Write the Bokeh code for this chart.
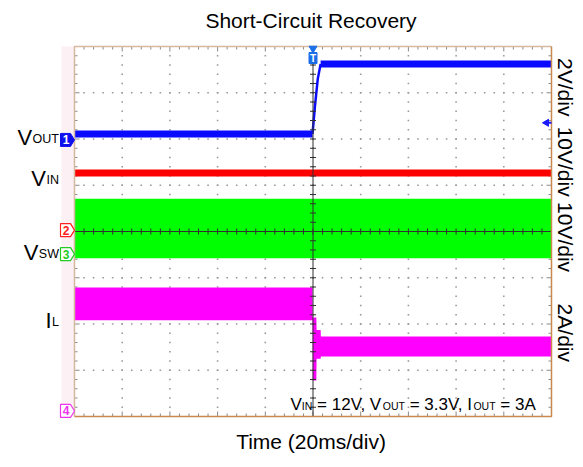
import numpy as np
from bokeh.plotting import figure
from bokeh.models import Range1d
from bokeh.core.properties import value
from bokeh.embed import file_html
from bokeh.resources import INLINE

# ---------------- data (oscilloscope divisions: x 0..10, y -4..4) ----------------
# VOUT, 2V/div
vout_t = [0.0, 4.99, 5.04, 5.10, 5.16, 10.0]
vout_v = [2.11, 2.11, 2.70, 3.30, 3.62, 3.62]
# VIN, 10V/div
vin_t = [0.0, 10.0]
vin_v = [1.265, 1.265]
# VSW, 10V/div (switching envelope)
vsw_t = [0.0, 10.0]
vsw_hi = [0.71, 0.71]
vsw_lo = [-0.58, -0.58]
# IL, 2A/div (ripple envelope)
il_t = [0.0, 4.99, 4.995, 5.07, 5.075, 5.16, 5.165, 10.0]
il_hi = [-1.21, -1.21, -1.86, -1.86, -2.13, -2.13, -2.27, -2.27]
il_lo = [-1.92, -1.92, -3.22, -3.22, -2.75, -2.75, -2.70, -2.70]
# channel ground markers
ch_names = ["1", "2", "3", "4"]
ch_level = [1.98, 0.03, -0.49, -3.88]
trig_time = 5.0
trig_level = 2.35
# scale labels
scale_labels = ["2V/div", "10V/div", "10V/div", "2A/div"]
scale_pos = [3.12, 1.51, -0.12, -2.19]
title = "Short-Circuit Recovery"
xlabel = "Time (20ms/div)"

# ---------------- layout ----------------
W, H = 583, 463
PX, PY = 47.7, 46.25          # pixels per division
L, R, T, B = 74, 32, 46, 47   # margins around the graticule (px)
FONT = value("Liberation Sans")

def dx(px):
    return px / PX

def dy(px):
    return px / PY

p = figure(width=W, height=H, output_backend="svg", toolbar_location=None,
           x_range=Range1d(-L / PX, 10 + R / PX), y_range=Range1d(-4 - B / PY, 4 + T / PY),
           min_border=0, x_axis_type=None, y_axis_type=None)
p.outline_line_color = None
p.background_fill_color = "white"
p.border_fill_color = "white"

# pink channel strip at the left
p.quad(left=-dx(13), right=0, bottom=-4, top=4, fill_color="#fcf0f5", line_color=None)

# graticule dots
gx, gy = [], []
for i in range(1, 10):
    for k in range(1, 40):
        gx.append(float(i)); gy.append(-4 + 0.2 * k)
for j in range(-3, 4):
    for k in range(1, 50):
        gx.append(0.2 * k); gy.append(float(j))
p.scatter(gx, gy, marker="square", size=1.6, fill_color="#9a9a9a", line_color=None)

# border ticks
x0s, y0s, x1s, y1s = [], [], [], []
for k in range(1, 50):
    x = 0.2 * k
    ln = 5 if k % 5 == 0 else 3
    x0s += [x, x]; x1s += [x, x]
    y0s += [4, -4]; y1s += [4 - dy(ln), -4 + dy(ln)]
for k in range(1, 40):
    y = -4 + 0.2 * k
    ln = 5 if k % 5 == 0 else 3
    y0s += [y, y]; y1s += [y, y]
    x0s += [0, 10]; x1s += [dx(ln), 10 - dx(ln)]
p.segment(x0s, y0s, x1s, y1s, line_color="#8a8a8a", line_width=1)

# ---------------- traces ----------------
p.varea(x=vsw_t, y1=vsw_lo, y2=vsw_hi, fill_color="#00ff00")
p.line(vin_t, vin_v, line_color="#ff0000", line_width=7)
p.varea(x=il_t, y1=il_lo, y2=il_hi, fill_color="#ff00ff")
p.line(vout_t[:2], vout_v[:2], line_color="#0a0aff", line_width=7)
p.line(vout_t[1:5], vout_v[1:5], line_color="#0a0aff", line_width=2.5)
p.line(vout_t[4:], vout_v[4:], line_color="#0a0aff", line_width=7)

# center axes with ticks
p.line([5, 5], [-4, 4], line_color="#303030", line_width=1)
p.line([0, 10], [0, 0], line_color="#303030", line_width=1)
cx0, cy0, cx1, cy1 = [], [], [], []
for k in range(1, 40):
    y = -4 + 0.2 * k
    cx0.append(5 - dx(3)); cx1.append(5 + dx(3)); cy0.append(y); cy1.append(y)
for k in range(1, 50):
    x = 0.2 * k
    cx0.append(x); cx1.append(x); cy0.append(-dy(3)); cy1.append(dy(3))
p.segment(cx0, cy0, cx1, cy1, line_color="#303030", line_width=1)

# graticule border
p.line([0, 0, 10], [-4, 4, 4], line_color="#d6b89e", line_width=1.5)
p.line([0, 10, 10], [-4, -4, 4], line_color="#c8884e", line_width=1.5)

# ---------------- channel markers ----------------
ch_colors = ["#1010ee", "#ff2020", "#22cc22", "#ee33ee"]
xs, ys = [], []
for lv in ch_level:
    xs.append([-dx(14), -dx(4), 0, -dx(4), -dx(14)])
    ys.append([lv + dy(6.5), lv + dy(6.5), lv, lv - dy(6.5), lv - dy(6.5)])
p.patches(xs[:1], ys[:1], fill_color=ch_colors[0], line_color=ch_colors[0])
p.patches(xs[1:], ys[1:], fill_color="white", line_color=ch_colors[1:], line_width=1.2)
p.text([-dx(8.5)] * 4, ch_level, text=ch_names, text_color=["white"] + ch_colors[1:],
       text_font=FONT, text_font_size="12px", text_font_style="bold",
       text_align="center", text_baseline="middle")

# trigger position marker
p.line([trig_time, trig_time], [4, 4 - dy(12)], line_color="#1a6ee8", line_width=1)
p.scatter([trig_time], [4 - dy(2)], marker="inverted_triangle", size=8,
          fill_color="#1a6ee8", line_color="#1a6ee8")
p.rect([trig_time], [4 - dy(11.5)], width=8, height=11, width_units="screen",
       height_units="screen", fill_color="#1a6ee8", line_color="#1a6ee8")
p.text([trig_time], [4 - dy(11.5)], text=["T"], text_color="white", text_font=FONT,
       text_font_size="10px", text_font_style="bold", text_align="center", text_baseline="middle")
# trigger level marker
p.line([10 - dx(6), 10], [trig_level, trig_level], line_color="#1a1aff", line_width=2)
p.scatter([10 - dx(5)], [trig_level], marker="triangle", angle=np.pi / 2, size=7,
          fill_color="#1a1aff", line_color="#1a1aff")

# ---------------- texts ----------------
p.text([5 - dx(2)], [4 + dy(26)], text=[title], text_font=FONT, text_font_size="21px",
       text_align="center", text_baseline="middle", text_color="black")
p.text([5 - dx(2)], [-4 - dy(25)], text=[xlabel], text_font=FONT, text_font_size="21px",
       text_align="center", text_baseline="middle", text_color="black")
p.text([10 + dx(14)] * 4, scale_pos, text=scale_labels, angle=-np.pi / 2, text_font=FONT,
       text_font_size="21px", text_align="center", text_baseline="middle", text_color="black")

AW = {' ': 278, '=': 584, ',': 278, '.': 278, '0': 556, '1': 556, '2': 556, '3': 556,
      'A': 667, 'V': 667, 'I': 278, 'N': 722, 'O': 778, 'U': 722, 'T': 611, 'S': 667,
      'W': 944, 'L': 556}

def tw(s, fs):
    return sum(AW[c] for c in s) / 1000.0 * fs

# left channel labels: (main, subscript, baseline in px from graticule top)
left_labels = [("V", "OUT", 91.0), ("V", "IN", 132.0), ("V", "SW", 206.0), ("I", "L", 274.0)]
for main, sub, base in left_labels:
    yb = 4 - dy(base)
    sub_start = -dx(74 - 58.5) - dx(tw(sub, 12.5))
    p.text([sub_start], [yb - dy(1.5)], text=[sub], text_font=FONT, text_font_size="12.5px",
           text_align="left", text_baseline="alphabetic", text_color="black")
    p.text([sub_start - dx(0.5)], [yb], text=[main], text_font=FONT, text_font_size="22px",
           text_align="right", text_baseline="alphabetic", text_color="black")

# condition annotation
pieces = [("V", False), ("IN", True), (" = 12V, V", False), ("OUT", True),
          (" = 3.3V, I", False), ("OUT", True), (" = 3A", False)]
FM, FS = 17.0, 10.5
xc = dx(290 - 74)
yb = -4 + dy(12.5)
for txt, is_sub in pieces:
    fs = FS if is_sub else FM
    lead = len(txt) - len(txt.lstrip(' '))
    shown = txt.strip(' ')
    p.text([xc + dx(tw(' ' * lead, fs))], [yb - (dy(1.5) if is_sub else 0)], text=[shown],
           text_font=FONT, text_font_size=f"{fs}px", text_align="left",
           text_baseline="alphabetic", text_color="black")
    xc += dx(tw(txt, fs))

open("out.html", "w").write(file_html(p, INLINE))
